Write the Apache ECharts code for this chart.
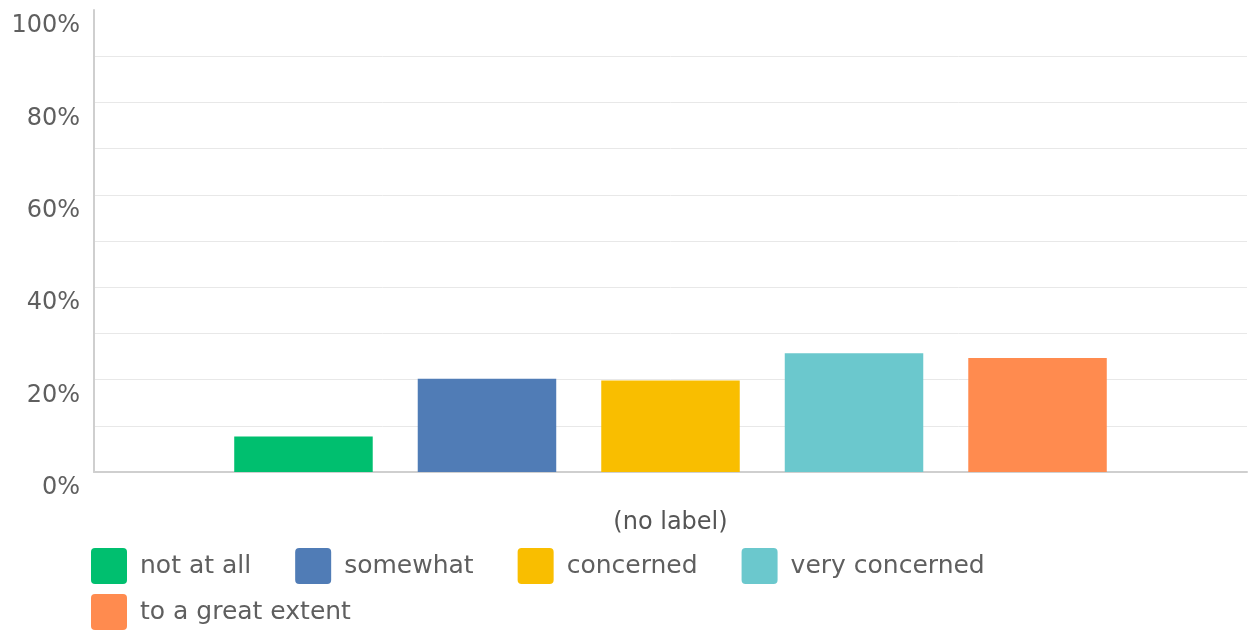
<!DOCTYPE html>
<html>
<head>
<meta charset="utf-8">
<script src="https://cdn.jsdelivr.net/npm/echarts@6/dist/echarts.min.js"></script>
<style>
html,body{margin:0;padding:0;background:#fff;}
#chart{width:1249px;height:638px;}
</style>
</head>
<body>
<div id="chart"></div>
<script>
const categories = ['(no label)'];
const seriesNames = ['not at all', 'somewhat', 'concerned', 'very concerned', 'to a great extent'];
const seriesValues = [[7.7], [20.2], [19.8], [25.7], [24.7]];
const seriesColors = ['#00BF6F', '#507CB6', '#F9BE00', '#6BC8CD', '#FF8B4F'];
const yTickLabels = ['0%', '', '20%', '', '40%', '', '60%', '', '80%', '', '100%'];

const FONT = 'DejaVu Sans';
const chart = echarts.init(document.getElementById('chart'));

const series = seriesNames.map((name, i) => ({
  name: name,
  type: 'bar',
  data: seriesValues[i],
  barWidth: 138.5,
  barGap: '32.5%',
  itemStyle: { color: seriesColors[i] }
}));

const legendBase = {
  orient: 'horizontal',
  icon: 'path://M4,0 H32 A4,4 0 0 1 36,4 V32 A4,4 0 0 1 32,36 H4 A4,4 0 0 1 0,32 V4 A4,4 0 0 1 4,0 Z',
  itemWidth: 36,
  itemHeight: 36,
  itemGap: 44,
  padding: 0,
  selectedMode: false,
  textStyle: { fontFamily: FONT, fontSize: 25, color: '#5f5f5f', padding: [2, 0, 0, 8] }
};

chart.setOption({
  animation: false,
  backgroundColor: '#fff',
  grid: { left: 94, right: 2, top: 10, bottom: 166, containLabel: false },
  legend: [
    Object.assign({}, legendBase, { left: 91, top: 548, data: seriesNames.slice(0, 4) }),
    Object.assign({}, legendBase, { left: 91, top: 594, data: seriesNames.slice(4) })
  ],
  xAxis: {
    type: 'category',
    data: categories,
    axisLine: { show: true, lineStyle: { color: '#cfcfcf', width: 2 } },
    axisTick: { show: false },
    axisLabel: { fontFamily: FONT, fontSize: 24, color: '#555', margin: 39 }
  },
  yAxis: {
    type: 'value',
    min: 0,
    max: 100,
    interval: 10,
    axisLine: { show: true, lineStyle: { color: '#cfcfcf', width: 2 } },
    axisTick: { show: false },
    splitLine: { show: true, showMaxLine: false, lineStyle: { color: '#e8e8e8', width: 1 } },
    axisLabel: {
      fontFamily: FONT, fontSize: 24, color: '#5f5f5f', margin: 14,
      verticalAlign: 'top', lineHeight: 32,
      formatter: function (v) { return yTickLabels[Math.round(v / 10)]; }
    }
  },
  series: series
});
</script>
</body>
</html>
